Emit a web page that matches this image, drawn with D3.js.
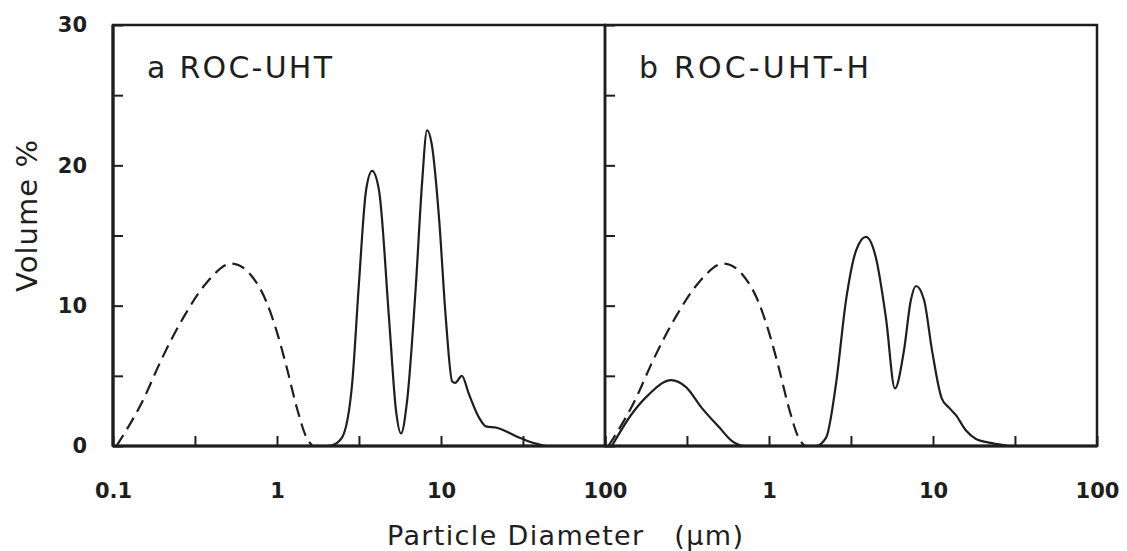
<!DOCTYPE html>
<html>
<head>
<meta charset="utf-8">
<script src="https://cdn.jsdelivr.net/npm/d3@7"></script>
<style>
  body { margin: 0; background: #fff; }
  svg { display: block; }
</style>
</head>
<body>
<script>
// reference curve (dashed), shown in both panels
const refDiam = [0.105, 0.15, 0.2, 0.27, 0.37, 0.53, 0.69, 0.86, 1.0, 1.14, 1.33, 1.5, 1.65]
const refVol  = [0, 3.1, 6.3, 9.2, 11.6, 13.0, 12.2, 10.3, 8.1, 5.7, 2.6, 0.7, 0]

// panel a: ROC-UHT
const uhtDiam = [2.0, 2.16, 2.49, 2.87, 3.16, 3.49, 3.8, 4.19, 4.82, 5.32, 5.7, 6.21, 7.04, 7.66, 8.22, 8.81, 9.72, 10.7, 11.7, 12.2, 13.4, 14.8, 17.1, 18.8, 21.9, 28.7, 35.9, 43.7]
const uhtVol  = [0, 0.05, 0.6, 4.4, 11.6, 18.2, 19.6, 18.2, 9.1, 2.5, 0.9, 3.2, 11.6, 18.7, 22.5, 21.4, 16.3, 9.1, 4.6, 4.5, 5.0, 3.7, 2.0, 1.4, 1.3, 0.7, 0.25, 0]

// panel b: ROC-UHT-H
const uhtHDiam = [0.11, 0.146, 0.186, 0.253, 0.312, 0.39, 0.5, 0.595, 0.72, 1.93, 2.23, 2.56, 2.95, 3.39, 3.9, 4.49, 5.17, 5.86, 6.65, 7.33, 7.88, 8.82, 9.87, 11.3, 12.6, 13.8, 15.9, 18.3, 22.9, 29]
const uhtHVol  = [0, 2.3, 3.7, 4.7, 4.2, 2.7, 1.3, 0.35, 0, 0, 0.6, 4.4, 10.4, 13.9, 14.9, 13.4, 9.1, 4.1, 6.8, 10.4, 11.4, 10.4, 6.8, 3.4, 2.7, 2.2, 1.1, 0.5, 0.2, 0]

const panelTitles = ["a ROC-UHT", "b ROC-UHT-H"]
const xTicks = [0.1, 0.316, 1, 3.16, 10, 31.6, 100]
const xLabelsA = [0.1, 1, 10, 100]
const xLabelsB = [1, 10, 100]
const yTicks = [0, 5, 10, 15, 20, 25, 30]
const yLabels = [0, 10, 20, 30]

const width = 1127
const height = 551
const plotTop = 25
const plotBottom = 446
const panels = [[113, 605], [605, 1097]]
const inkcolor = "#1e1e1e"
const fontfamily = "'DejaVu Sans', sans-serif"

const svg = d3.select("body").append("svg")
  .attr("width", width)
  .attr("height", height)

const y = d3.scaleLinear().domain([0, 30]).range([plotBottom, plotTop])

function zip(xs, ys) {
  return xs.map((d, i) => [d, ys[i]])
}

const series = [
  [{ pts: zip(refDiam, refVol), dash: "13,7" }, { pts: zip(uhtDiam, uhtVol), dash: null }],
  [{ pts: zip(refDiam, refVol), dash: "13,7" }, { pts: zip(uhtHDiam, uhtHVol), dash: null }]
]

panels.forEach((range, i) => {
  const x = d3.scaleLog().domain([0.1, 100]).range(range)
  const g = svg.append("g")

  // frame
  g.append("rect")
    .attr("x", range[0])
    .attr("y", plotTop)
    .attr("width", range[1] - range[0])
    .attr("height", plotBottom - plotTop)
    .attr("fill", "none")
    .attr("stroke", inkcolor)
    .attr("stroke-width", 2.5)

  // curves
  const line = d3.line()
    .x(d => x(d[0]))
    .y(d => y(d[1]))
    .curve(d3.curveMonotoneX)
  series[i].forEach(s => {
    g.append("path")
      .attr("d", line(s.pts))
      .attr("fill", "none")
      .attr("stroke", inkcolor)
      .attr("stroke-width", 2.2)
      .attr("stroke-dasharray", s.dash)
  })

  // y axis, ticks pointing inward
  const labelsY = i == 0 ? yLabels : []
  const yAxis = g.append("g")
    .attr("transform", `translate(${range[0]},0)`)
    .call(d3.axisLeft(y)
      .tickValues(yTicks)
      .tickSizeInner(-10)
      .tickSizeOuter(0)
      .tickPadding(26)
      .tickFormat(d => labelsY.includes(d) ? d : ""))
  yAxis.select(".domain").remove()

  // x axis
  const labelsX = i == 0 ? xLabelsA : xLabelsB
  const xAxis = g.append("g")
    .attr("transform", `translate(0,${plotBottom})`)
    .call(d3.axisBottom(x)
      .tickValues(xTicks)
      .tickSizeInner(-10)
      .tickSizeOuter(0)
      .tickPadding(37)
      .tickFormat(d => labelsX.includes(d) ? String(d) : ""))
  xAxis.select(".domain").remove()

  for (const ax of [xAxis, yAxis]) {
    ax.selectAll("line").attr("stroke", inkcolor).attr("stroke-width", 2)
    ax.selectAll("text")
      .attr("fill", inkcolor)
      .style("font-family", fontfamily)
      .style("font-weight", "bold")
      .style("font-size", "21px")
  }

  g.append("text")
    .text(panelTitles[i])
    .attr("x", range[0] + 34)
    .attr("y", 78)
    .attr("textLength", i == 0 ? 185 : 230)
    .attr("fill", inkcolor)
    .style("font-family", fontfamily)
    .style("font-size", "30px")
})

// heavier left and bottom axis lines
svg.append("line")
  .attr("x1", 113).attr("x2", 113)
  .attr("y1", plotTop).attr("y2", plotBottom)
  .attr("stroke", inkcolor).attr("stroke-width", 3.2)
svg.append("line")
  .attr("x1", 113).attr("x2", 1097)
  .attr("y1", plotBottom).attr("y2", plotBottom)
  .attr("stroke", inkcolor).attr("stroke-width", 3.2)

svg.append("text")
  .text("Volume %")
  .attr("transform", "translate(37,216) rotate(-90)")
  .attr("text-anchor", "middle")
  .attr("textLength", 152)
  .attr("fill", inkcolor)
  .style("font-family", fontfamily)
  .style("font-size", "29px")

svg.append("text")
  .text("Particle Diameter   (μm)")
  .attr("x", 387)
  .attr("y", 545)
  .attr("textLength", 356)
  .style("white-space", "pre")
  .attr("fill", inkcolor)
  .style("font-family", fontfamily)
  .style("font-size", "27px")
</script>
</body>
</html>
